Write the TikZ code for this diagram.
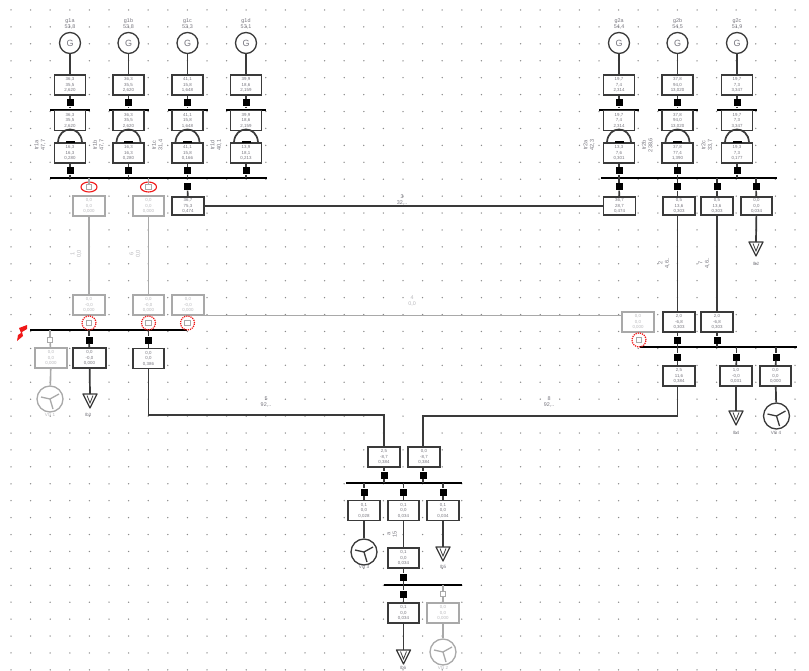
\documentclass[tikz,border=0pt]{standalone}
\usepackage{fontspec}
\setmainfont{Liberation Sans}
\usetikzlibrary{shapes.geometric}
\definecolor{ink}{HTML}{3A3A3A}
\definecolor{pale}{HTML}{A9A9A9}
\definecolor{lbl}{HTML}{77767F}
\definecolor{lblpale}{HTML}{B8B8BC}
\definecolor{dotc}{HTML}{8A8A8A}
\definecolor{faultred}{HTML}{F01818}
\newcommand{\dc}{,}
\tikzset{
  tinytxt/.style={font=\fontsize{4.6}{5.4}\selectfont,align=center,text=lbl,inner sep=0pt},
  palebox/.style={draw=pale,line width=1.5pt,fill=white,minimum width=32pt,minimum height=20pt,inner sep=0pt,font=\fontsize{4.4}{5.4}\selectfont,align=center,text=lblpale},
  inkbox/.style={draw=ink,line width=1.6pt,fill=white,minimum width=31pt,minimum height=20pt,inner sep=0pt,font=\fontsize{4.4}{5.4}\selectfont,align=center,text=lbl},
  busbar/.style={fill=black,inner sep=0pt,minimum height=2.8pt},
  sw/.style={fill=black,inner sep=0pt,minimum width=7pt,minimum height=7pt},
  swopen/.style={draw=pale,line width=1pt,fill=white,inner sep=0pt,minimum width=5.5pt,minimum height=5.5pt},
  wire/.style={draw=ink,line width=1.7pt},
  palewire/.style={draw=pale,line width=1.6pt},
  gen/.style={circle,draw=ink,line width=1.3pt,fill=white,minimum size=21pt,inner sep=0pt,font=\fontsize{9}{9}\selectfont,text=lbl},
  ringE/.style={ellipse,draw=faultred,line width=1.1pt,minimum width=16pt,minimum height=10pt,inner sep=0pt},
  ringC/.style={circle,draw=faultred,line width=1.2pt,densely dotted,minimum size=14pt,inner sep=0pt},
  rowlbl/.style={tinytxt,rotate=90},
  tick/.style={fill=black,inner sep=0pt,minimum width=9pt,minimum height=2pt},
}
\newcommand{\loadsym}[4][ink]{% colour, coordinate name, x, top y
  \coordinate (#2) at (#3,#4);
  \draw[#1,line width=1.3pt,fill=white,line join=round] (#3-7,#4) -- (#3+7,#4) -- (#3,#4+14) -- cycle;
  \draw[#1,line width=.8pt] (#3-3,#4+1.5) -- (#3,#4+9) -- (#3+3,#4+1.5);
}
\newcommand{\windsym}[4][ink]{% colour, node name, x, y
  \node[circle,draw=#1,line width=1.3pt,fill=white,minimum size=26pt,inner sep=0pt] (#2) at (#3,#4) {};
  \draw[#1,line width=1.3pt] (#3,#4) -- (#3+9,#4-5) (#3,#4) -- (#3-9,#4-2) (#3,#4) -- (#3+3,#4+10);
}
\begin{document}
\begin{tikzpicture}[x=1pt,y=-1pt]
\useasboundingbox (0,0) rectangle (809,671);
\fill[white] (0,0) rectangle (809,671);
% dot grid
\foreach \i in {0,...,40}{\foreach \j in {0,...,39}{
  \fill[dotc] (11+19.6*\i,10+16.92*\j) circle (.75pt);}}

% buses
\node[busbar,minimum width=217pt] (busA) at (158.5,178) {};
\node[busbar,minimum width=176pt] (busB) at (689,178) {};
\node[busbar,minimum width=157pt] (busC) at (108.5,330) {};
\node[busbar,minimum width=157pt] (busD) at (718.5,347) {};
\node[busbar,minimum width=116pt] (busE) at (404,483) {};
\node[busbar,minimum width=78pt] (busF) at (423,585) {};

% generator columns
\foreach \n/\x/\gn/\gv/\ta/\tb/\tc/\ua/\ub/\uc/\ra/\rb in {
  a/70/g1a/53\dc8/36\dc3/35\dc5/2\dc620/16\dc3/16\dc3/0\dc280/tr1a/47\dc7,
  b/128.5/g1b/53\dc8/36\dc3/35\dc5/2\dc620/16\dc3/16\dc3/0\dc280/tr1b/47\dc7,
  c/187.5/g1c/53\dc3/41\dc1/15\dc8/1\dc648/41\dc1/15\dc8/0\dc166/tr1c/31\dc4,
  d/246/g1d/53\dc1/39\dc9/18\dc6/2\dc159/13\dc9/18\dc1/0\dc213/tr1d/40\dc1,
  e/619/g2a/54\dc4/19\dc7/7\dc4/2\dc314/13\dc3/7\dc6/0\dc301/tr2a/42\dc3,
  f/677.5/g2b/54\dc5/37\dc8/94\dc0/13\dc020/37\dc8/77\dc4/1\dc390/tr2b/238\dc6,
  g/737/g2c/51\dc9/19\dc7/7\dc3/3\dc347/19\dc3/7\dc3/0\dc177/tr2c/33\dc7}{
  \node[tinytxt,font=\fontsize{5.4}{6}\selectfont] (gl\n) at (\x,24) {\gn\\\gv};
  \node[gen] (G\n) at (\x,43) {G};
  \node[inkbox] (up\n) at (\x,85) {\ta\\\tb\\\tc};
  \node[sw] (ss\n) at (\x,103) {};
  \node[busbar,minimum width=40pt] (lb\n) at (\x,110) {};
  \node[inkbox] (md\n) at (\x,120.5) {\ta\\\tb\\\tc};
  \node[inkbox] (lo\n) at (\x,153) {\ua\\\ub\\\uc};
  \node[tick] (tk\n) at (\x,142) {};
  \node[sw] (st\n) at (\x,171) {};
  \node[rowlbl,font=\fontsize{5.6}{6.4}\selectfont] (rl\n) at (\x-30,145) {\ra\\\rb};
  \draw[wire] (G\n) -- (up\n);
  \draw[wire] (up\n) -- (ss\n);
  \draw[wire] (ss\n) -- (lb\n);
  \draw[wire] ([xshift=-12pt]lo\n.north) .. controls +(1,-17) and +(-1,-17) .. ([xshift=12pt]lo\n.north);
  \draw[wire] (lo\n) -- (st\n);
  \draw[wire] (st\n) -- (st\n |- busA);
}

% upper-left feeders
\node[swopen] (so1) at (89,187) {};
\node[ringE] (re1) at (89,187) {};
\node[swopen] (so2) at (148.5,187) {};
\node[ringE] (re2) at (148.5,187) {};
\node[sw] (s3) at (187.5,187) {};
\node[palebox] (f1) at (89,206) {0\dc0\\0\dc0\\0\dc000};
\node[palebox,minimum width=31pt] (f2) at (148.5,206) {0\dc0\\0\dc0\\0\dc000};
\node[inkbox,minimum height=18pt,minimum width=32pt] (f3) at (188,206) {36\dc7\\75\dc3\\0\dc474};
\draw[palewire] (so1 |- busA) -- (so1);
\draw[palewire] (so2 |- busA) -- (so2);
\draw[wire] (s3) -- (f3);

% upper-right feeders
\node[sw] (s4) at (619,187) {};
\node[sw] (s5) at (677.5,187) {};
\node[sw] (s6) at (717,187) {};
\node[sw] (s7) at (756,187) {};
\node[inkbox,minimum height=18pt,minimum width=32pt] (f4) at (619.5,206) {36\dc7\\28\dc7\\0\dc474};
\node[inkbox,minimum height=18pt,minimum width=32pt] (f5) at (679,206) {0\dc5\\13\dc6\\0\dc303};
\node[inkbox,minimum height=18pt,minimum width=32pt] (f6) at (717,206) {0\dc5\\13\dc6\\0\dc303};
\node[inkbox,minimum height=18pt,minimum width=31pt] (f7) at (756.5,206) {0\dc0\\0\dc0\\0\dc034};
\draw[wire] (s4 |- busB) -- (s4); \draw[wire] (s4) -- (f4);
\draw[wire] (s5 |- busB) -- (s5); \draw[wire] (s5) -- (s5 |- f5.north);
\draw[wire] (s6 |- busB) -- (s6); \draw[wire] (s6) -- (f6);
\draw[wire] (s7 |- busB) -- (s7); \draw[wire] (s7) -- (f7);
\loadsym{l2}{756}{242}
\draw[wire] (f7) -- (l2);
\node[tinytxt] (tl2) at (756,264) {Ib2};

% middle-left section
\node[palebox] (c1) at (89,305) {0\dc0\\-0\dc0\\0\dc000};
\node[palebox,minimum width=31pt] (c2) at (148.5,305) {0\dc0\\-0\dc0\\0\dc000};
\node[palebox] (c3) at (188,305) {0\dc0\\-0\dc0\\0\dc000};
\node[swopen] (o1) at (89,323) {};
\node[ringC] (r1) at (89,323) {};
\node[swopen] (o2) at (148.5,323) {};
\node[ringC] (r2) at (148.5,323) {};
\node[swopen] (o3) at (187.5,323) {};
\node[ringC] (r3) at (187.5,323) {};
\draw[palewire] (f1) -- (c1);
\draw[palewire] (f2) -- (c2);
\node[swopen] (o4) at (50,340) {};
\node[sw] (s8) at (89,340) {};
\node[sw] (s9) at (148.5,340) {};
\node[palebox,minimum width=32pt] (d1) at (51,358) {0\dc0\\0\dc0\\0\dc000};
\node[inkbox,minimum width=33pt] (d2) at (89.5,358) {0\dc0\\-0\dc0\\0\dc000};
\node[inkbox] (d3) at (148.5,358.5) {0\dc0\\0\dc0\\0\dc386};
\draw[palewire] (o4 |- busC) -- (o4); \draw[palewire] (o4) -- (d1);
\draw[wire] (s8 |- busC) -- (s8); \draw[wire] (s8) -- (d2);
\draw[wire] (s9 |- busC) -- (s9); \draw[wire] (s9) -- (d3);
\windsym[pale]{w1}{50}{399}
\draw[palewire] (d1) -- (w1);
\loadsym{l3}{90}{394}
\draw[wire] (d2) -- (l3);
\node[tinytxt] (tl3) at (88,415) {Ib3};
\node[tinytxt,text=lblpale] (tw1) at (50,415) {VG 1};
% fault mark
\fill[faultred] (27,325) -- (19,328) -- (21,333) -- (18,335) -- (17,341) -- (23,336) -- (22,332) -- (27,329) -- cycle;

% middle-right section
\node[palebox] (c4) at (638,322) {0\dc0\\0\dc0\\0\dc000};
\node[inkbox,minimum width=32pt] (c5) at (679,322) {2\dc0\\-6\dc8\\0\dc303};
\node[inkbox,minimum width=32pt] (c6) at (717,322) {2\dc0\\-6\dc8\\0\dc303};
\node[swopen] (o5) at (639,340) {};
\node[ringC] (r5) at (639,340) {};
\node[sw] (s10) at (677.5,340) {};
\node[sw] (s11) at (717,340) {};
\node[sw] (s12) at (677.5,357) {};
\node[sw] (s13) at (736.5,357) {};
\node[sw] (s14) at (776,357) {};
\node[inkbox,minimum width=32pt] (e1) at (679,376) {2\dc5\\11\dc6\\0\dc384};
\node[inkbox,minimum width=32pt] (e2) at (736,376) {1\dc0\\-0\dc0\\0\dc031};
\node[inkbox] (e3) at (775.5,376) {0\dc0\\0\dc0\\0\dc000};
\draw[wire] (s5 |- f5.south) -- (s10 |- c5.north);
\draw[wire] (f6) -- (c6);
\draw[wire] (s10 |- c5.south) -- (s10); \draw[wire] (s10) -- (s10 |- busD);
\draw[wire] (s11 |- c6.south) -- (s11); \draw[wire] (s11) -- (s11 |- busD);
\draw[wire] (s12 |- busD) -- (s12); \draw[wire] (s12) -- (s12 |- e1.north);
\draw[wire] (s13 |- busD) -- (s13); \draw[wire] (s13) -- (e2);
\draw[wire] (s14 |- busD) -- (s14); \draw[wire] (s14) -- (e3);
\loadsym{l4}{736}{411}
\draw[wire] (e2) -- (l4);
\node[tinytxt] (tl4) at (736,433) {Ib4};
\windsym{w4}{776.5}{416}
\draw[wire] (e3) -- (w4);
\node[tinytxt] (tw4) at (776,433) {VG 4};

% long lines
\draw[wire,line width=1.2pt] (f3.east) -- (f4.west);
\draw[palewire,line width=1.3pt] (c3.east |- c3.south) -- (c4.west |- c3.south);

% bottom section
\node[inkbox,minimum width=32pt] (h1) at (384,457) {2\dc5\\-8\dc7\\0\dc384};
\node[inkbox,minimum width=32pt] (h2) at (424,457) {0\dc0\\-8\dc7\\0\dc384};
\node[sw] (s15) at (384,475) {};
\node[sw] (s16) at (423,475) {};
\node[sw] (s17) at (364,492) {};
\node[sw] (s18) at (403.5,492) {};
\node[sw] (s19) at (443,492) {};
\node[inkbox,minimum width=32pt] (k1) at (364,510.5) {0\dc1\\0\dc0\\0\dc028};
\node[inkbox] (k2) at (403.5,510.5) {0\dc1\\0\dc0\\0\dc034};
\node[inkbox,minimum width=32pt] (k3) at (443,510.5) {0\dc1\\0\dc0\\0\dc034};
\node[inkbox] (k4) at (403.5,558) {0\dc1\\0\dc0\\0\dc034};
\node[sw] (s20) at (403.5,577) {};
\node[sw] (s21) at (403.5,594) {};
\node[swopen] (o6) at (443,594) {};
\node[inkbox] (k5) at (403.5,613) {0\dc1\\0\dc0\\0\dc034};
\node[palebox] (k6) at (443,613) {0\dc0\\0\dc0\\0\dc000};
\draw[wire] (d3.south) |- (h1.north |- 0,415) -- (h1.north);
\draw[wire] (h2.north -| s16) |- (s12 |- 0,416) -- (s12 |- e1.south);
\draw[wire] (h1) -- (s15); \draw[wire] (s15) -- (s15 |- busE);
\draw[wire] (s16 |- h2.south) -- (s16); \draw[wire] (s16) -- (s16 |- busE);
\draw[wire] (s17 |- busE) -- (s17); \draw[wire] (s17) -- (k1);
\draw[wire] (s18 |- busE) -- (s18); \draw[wire] (s18) -- (k2);
\draw[wire] (s19 |- busE) -- (s19); \draw[wire] (s19) -- (k3);
\draw[wire] (k2) -- (k4);
\draw[wire] (k4) -- (s20); \draw[wire] (s20) -- (s20 |- busF);
\draw[wire] (s21 |- busF) -- (s21); \draw[wire] (s21) -- (k5);
\draw[palewire] (o6 |- busF) -- (o6); \draw[palewire] (o6) -- (k6);
\windsym{w3}{364}{552}
\draw[wire] (k1) -- (w3);
\loadsym{l5}{443}{547}
\draw[wire] (k3) -- (l5);
\loadsym{l6}{403.5}{650}
\draw[wire] (k5) -- (l6);
\windsym[pale]{w2}{443}{652}
\draw[palewire] (k6) -- (w2);
\node[tinytxt] (tw3) at (364,567) {VG 3};
\node[tinytxt] (tl5) at (443,567) {Ib5};
\node[tinytxt] (tl6) at (403,668) {Ib6};
\node[tinytxt,text=lblpale] (tw2) at (443,668) {VG 2};

% line labels
\node[rowlbl,text=lblpale,font=\fontsize{5.6}{6.4}\selectfont] (n1) at (76,254) {1\\0\dc0};
\node[rowlbl,text=lblpale,font=\fontsize{5.6}{6.4}\selectfont] (n2) at (135,254) {6\\0\dc0};
\node[tinytxt,font=\fontsize{5.4}{6}\selectfont] (n3) at (402,200) {3\\32\dc..};
\node[tinytxt,text=lblpale,font=\fontsize{5.4}{6}\selectfont] (n4) at (412,301) {4\\0\dc0};
\node[tinytxt,font=\fontsize{5.4}{6}\selectfont] (n5) at (266,402) {5\\92\dc..};
\node[tinytxt,font=\fontsize{5.4}{6}\selectfont] (n6) at (549,402) {8\\92\dc..};
\node[rowlbl,font=\fontsize{5.6}{6.4}\selectfont] (n7) at (664,263) {2\\4\dc6..};
\node[rowlbl,font=\fontsize{5.6}{6.4}\selectfont] (n8) at (704,263) {7\\4\dc6..};
\node[rowlbl,font=\fontsize{5.6}{6.4}\selectfont] (n9) at (392,534) {a\\15};
\end{tikzpicture}
\end{document}
